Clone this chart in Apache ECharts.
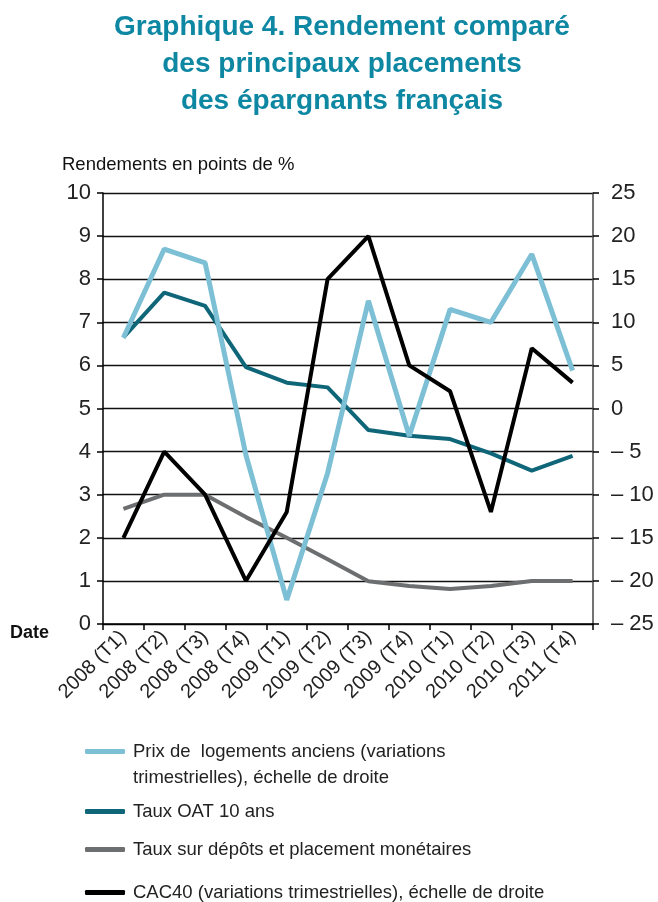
<!DOCTYPE html>
<html>
<head>
<meta charset="utf-8">
<script src="https://cdn.jsdelivr.net/npm/echarts@6/dist/echarts.min.js"></script>
<style>html,body{margin:0;padding:0;background:#fff;}#c{width:658px;height:902px;}</style>
</head>
<body>
<div id="c"></div>
<script>
const categories = ['2008 (T1)','2008 (T2)','2008 (T3)','2008 (T4)','2009 (T1)','2009 (T2)','2009 (T3)','2009 (T4)','2010 (T1)','2010 (T2)','2010 (T3)','2011 (T4)'];
const prixLogements = [8.2, 18.5, 16.9, -5.4, -22.2, -7.5, 12.5, -3.2, 11.5, 10.0, 17.9, 4.4];
const tauxOAT = [6.65, 7.69, 7.38, 5.96, 5.60, 5.49, 4.50, 4.37, 4.29, 3.96, 3.56, 3.90];
const tauxDepots = [2.67, 3.0, 3.0, 2.48, 2.0, 1.5, 0.99, 0.88, 0.81, 0.88, 1.0, 1.0];
const cac40 = [-15, -5, -10, -20, -12, 15, 20, 5, 2, -12, 7, 3];

const names = {
  prix: 'Prix de  logements anciens (variations trimestrielles), échelle de droite',
  oat: 'Taux OAT 10 ans',
  dep: 'Taux sur dépôts et placement monétaires',
  cac: 'CAC40 (variations trimestrielles), échelle de droite'
};
const colors = { prix: '#7dc0d6', oat: '#0f6679', dep: '#6d6e70', cac: '#000000' };
const FONT = '"Liberation Sans", Arial, sans-serif';

const chart = echarts.init(document.getElementById('c'), null, { renderer: 'canvas' });

function legendItem(key, top, label) {
  return {
    data: [names[key]],
    left: 85, top: top,
    padding: 0,
    orient: 'vertical',
    icon: 'roundRect',
    itemWidth: 40, itemHeight: 5,
    selectedMode: false,
    formatter: () => label,
    textStyle: { fontFamily: FONT, fontSize: 18.5, color: '#222', padding: [0, 0, 0, 3] }
  };
}

const option = {
  animation: false,
  backgroundColor: '#fff',
  grid: { left: 103, right: 65, top: 193, bottom: 278, containLabel: false },
  legend: [
    legendItem('prix', 742, 'Prix de  logements anciens (variations'),
    legendItem('oat', 802, 'Taux OAT 10 ans'),
    legendItem('dep', 840, 'Taux sur dépôts et placement monétaires'),
    legendItem('cac', 883, 'CAC40 (variations trimestrielles), échelle de droite')
  ],
  graphic: [
    { type: 'text', x: 342, y: 9, style: {
        text: 'Graphique 4. Rendement comparé\ndes principaux placements\ndes épargnants français',
        textAlign: 'center',
        font: 'bold 28px ' + FONT, fill: '#0e87a3', lineHeight: 37 } },
    { type: 'text', x: 62, y: 155, style: { text: 'Rendements en points de %', font: '18.5px ' + FONT, fill: '#111' } },
    { type: 'text', x: 10, y: 624, style: { text: 'Date', font: 'bold 18px ' + FONT, fill: '#111' } },
    { type: 'text', x: 133, y: 768, style: { text: 'trimestrielles), échelle de droite', font: '18.5px ' + FONT, fill: '#222' } }
  ],
  xAxis: {
    type: 'category',
    data: categories,
    boundaryGap: true,
    axisLine: { lineStyle: { color: '#000', width: 1.5 } },
    axisTick: { show: true, length: 6, lineStyle: { color: '#000', width: 1.5 } },
    axisLabel: { rotate: 45, fontFamily: FONT, fontSize: 20, color: '#222', margin: 10, interval: 0 },
    splitLine: { show: false }
  },
  yAxis: [
    {
      type: 'value', min: 0, max: 10, interval: 1, position: 'left',
      axisLine: { show: true, lineStyle: { color: '#000', width: 1.5 } },
      axisTick: { show: true, length: 6, lineStyle: { color: '#000', width: 1.5 } },
      axisLabel: { fontFamily: FONT, fontSize: 22, color: '#222', margin: 12 },
      splitLine: { show: true, lineStyle: { color: '#111', width: 1.3 } }
    },
    {
      type: 'value', min: -25, max: 25, interval: 5, position: 'right',
      axisLine: { show: true, lineStyle: { color: '#444', width: 1.5 } },
      axisTick: { show: true, length: 6, lineStyle: { color: '#000', width: 1.5 } },
      axisLabel: { fontFamily: FONT, fontSize: 22, color: '#222', margin: 18, align: 'left',
        formatter: v => v < 0 ? '\u2013 ' + Math.abs(v) : String(v) },
      splitLine: { show: false }
    }
  ],
  series: [
    { name: names.dep, type: 'line', yAxisIndex: 0, data: tauxDepots, symbol: 'none',
      lineStyle: { color: colors.dep, width: 4 }, itemStyle: { color: colors.dep } },
    { name: names.oat, type: 'line', yAxisIndex: 0, data: tauxOAT, symbol: 'none',
      lineStyle: { color: colors.oat, width: 4 }, itemStyle: { color: colors.oat } },
    { name: names.prix, type: 'line', yAxisIndex: 1, data: prixLogements, symbol: 'none',
      lineStyle: { color: colors.prix, width: 5 }, itemStyle: { color: colors.prix } },
    { name: names.cac, type: 'line', yAxisIndex: 1, data: cac40, symbol: 'none',
      lineStyle: { color: colors.cac, width: 4 }, itemStyle: { color: colors.cac } }
  ]
};
chart.setOption(option);
</script>
</body>
</html>
